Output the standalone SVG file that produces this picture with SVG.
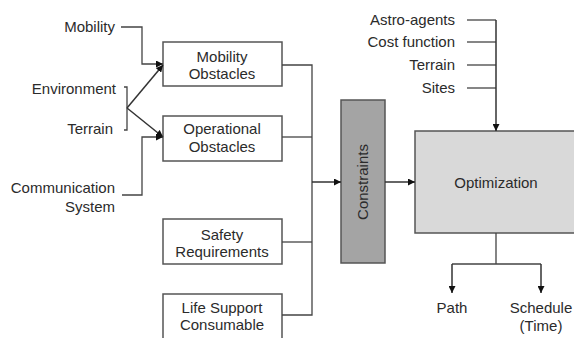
<svg xmlns="http://www.w3.org/2000/svg" width="574" height="338" viewBox="0 0 574 338">
  <style>
    text { font-family: "Liberation Sans", Arial, sans-serif; font-size: 15px; fill: #2b2b2b; }
    .c { text-anchor: middle; }
    .r { text-anchor: end; }
    .box { fill: #ffffff; stroke: #555555; stroke-width: 1.5; }
    .wire { fill: none; stroke: #333333; stroke-width: 1.5; }
    .thin { fill: none; stroke: #444444; stroke-width: 1.3; }
  </style>
  <defs>
    <marker id="arrow" viewBox="0 0 10 10" refX="10" refY="5" markerWidth="7" markerHeight="7" markerUnits="userSpaceOnUse" orient="auto">
      <path d="M0,0 L10,5 L0,10 z" fill="#111111"/>
    </marker>
  </defs>

  <rect width="574" height="338" fill="#ffffff"/>

  <!-- input labels -->
  <g id="inputs-left">
    <text class="r" x="115" y="32">Mobility</text>
    <text class="r" x="116" y="94">Environment</text>
    <text class="r" x="113" y="134">Terrain</text>
    <text class="r" x="115" y="193">Communication</text>
    <text class="r" x="115" y="212">System</text>
  </g>
  <g id="inputs-top">
    <text class="r" x="455" y="25">Astro-agents</text>
    <text class="r" x="455" y="47">Cost function</text>
    <text class="r" x="455" y="70">Terrain</text>
    <text class="r" x="455" y="93">Sites</text>
  </g>

  <!-- obstacle and requirement blocks -->
  <g id="mobility-obstacles">
    <rect class="box" x="163" y="42" width="119" height="44"/>
    <text class="c" x="222" y="62">Mobility</text>
    <text class="c" x="222" y="79">Obstacles</text>
  </g>
  <g id="operational-obstacles">
    <rect class="box" x="163" y="116" width="119" height="45"/>
    <text class="c" x="222" y="134">Operational</text>
    <text class="c" x="222" y="152">Obstacles</text>
  </g>
  <g id="safety-requirements">
    <rect class="box" x="163" y="219" width="119" height="45"/>
    <text class="c" x="222" y="240">Safety</text>
    <text class="c" x="222" y="257">Requirements</text>
  </g>
  <g id="life-support">
    <rect class="box" x="163" y="294" width="119" height="50"/>
    <text class="c" x="222" y="313">Life Support</text>
    <text class="c" x="222" y="330">Consumable</text>
  </g>

  <!-- constraints and optimization -->
  <g id="constraints">
    <rect x="341" y="100" width="44" height="163" fill="#a4a4a4" stroke="#555555" stroke-width="1.5"/>
    <text class="c" transform="translate(368,182) rotate(-90)">Constraints</text>
  </g>
  <g id="optimization">
    <rect x="415" y="131" width="165" height="102" fill="#d9d9d9" stroke="#555555" stroke-width="1.5"/>
    <text class="c" x="496" y="188">Optimization</text>
  </g>

  <!-- outputs -->
  <g id="outputs">
    <text class="c" x="452" y="313">Path</text>
    <text class="c" x="541" y="313">Schedule</text>
    <text class="c" x="541" y="331">(Time)</text>
  </g>

  <!-- connectors -->
  <g id="connectors">
    <!-- Environment / Terrain bracket -->
    <path class="thin" d="M124,87 H127 V130 H124"/>
    <path class="wire" d="M127,108 L163,65" marker-end="url(#arrow)"/>
    <path class="wire" d="M127,108 L163,137" marker-end="url(#arrow)"/>
    <!-- Mobility -->
    <path class="thin" d="M121,27 H142 V64 H163" marker-end="url(#arrow)"/>
    <!-- Communication system -->
    <path class="thin" d="M122,195 H142 V137 H163" marker-end="url(#arrow)"/>
    <!-- blocks to bus -->
    <path class="thin" d="M282,65 H312 V315 H282"/>
    <path class="thin" d="M282,137 H312"/>
    <path class="thin" d="M282,242 H312"/>
    <path class="wire" d="M312,182 H341" marker-end="url(#arrow)"/>
    <path class="wire" d="M385,182 H415" marker-end="url(#arrow)"/>
    <!-- top inputs to optimization -->
    <path class="thin" d="M467,20 H496"/>
    <path class="thin" d="M467,42 H496"/>
    <path class="thin" d="M467,65 H496"/>
    <path class="thin" d="M467,88 H496"/>
    <path class="wire" d="M496,20 V131" marker-end="url(#arrow)"/>
    <!-- outputs -->
    <path class="thin" d="M496,233 V264 M452,264 H541"/>
    <path class="wire" d="M452,264 V293" marker-end="url(#arrow)"/>
    <path class="wire" d="M541,264 V293" marker-end="url(#arrow)"/>
  </g>
</svg>
